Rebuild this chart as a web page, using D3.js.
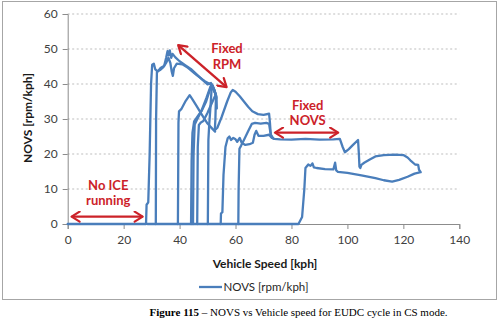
<!DOCTYPE html>
<html>
<head>
<meta charset="utf-8">
<script src="https://cdn.jsdelivr.net/npm/d3@7"></script>
<style>
  html, body { margin: 0; padding: 0; background: #fff; }
  svg { display: block; }
</style>
</head>
<body>
<svg id="chart" width="500" height="328"></svg>
<script>
// Axis ticks
const xTicks = [0, 20, 40, 60, 80, 100, 120, 140];
const yTicks = [0, 10, 20, 30, 40, 50, 60];

// NOVS trace, split into runs (each run starts when the engine fires up)
const speedRuns = [
  [0, 28, 28.2, 28.8, 29.3, 29.8, 30.2, 30.8, 31.3, 32.2, 33.2, 34.5, 35.2, 35.7, 36.1, 36.5, 37, 37.5, 38.5, 40,
   42, 44, 46, 48, 50, 51.2, 52, 52.8, 53, 52.8, 52.6, 53.5, 55, 57, 58.3, 59, 60, 61.5, 63, 64.5,
   66, 68, 70, 72, 72.3, 72.6, 73.2, 73.8, 76, 80, 85, 90, 95, 97.3, 98.3, 99.1, 100.5, 102, 103.8, 104.1,
   104.3, 104.6, 105, 106, 108, 110, 113, 117, 120, 121.5, 122.5, 124.2, 125.3, 125.6, 126.2, 124, 121.5, 118.5, 116, 113,
   110, 105, 100, 96.6, 96, 95.6, 95, 92, 89, 88, 87.5, 86.8, 86, 85, 84.6, 83.8, 82.5, 28.5],
  [39.4, 39.6, 39.8, 40.6, 42.2, 43.6, 44.6, 46, 48, 50, 51.5, 52.7],
  [44.1, 44.3, 44.6, 45.2, 46.5, 48, 49.5, 50.7, 51.5, 52.2, 52.8, 53.1],
  [44.8, 45, 45.4, 46.2, 47.8, 49.6, 51, 51.8, 52.5, 53],
  [46.3, 46.5, 46.9, 47.6, 48.5, 50, 51.5, 52.6],
  [50.1, 50.3, 50.6, 51, 51.4, 51.7, 52.3, 53],
  [31.5, 31.6, 31.9, 33, 34.2, 35.3, 36, 36.7, 37.2, 37.6, 38, 39, 41, 43, 46, 49, 51, 52.5, 53.2, 53.3],
  [54.7, 54.8, 55.3, 55.7, 56.4, 57.2, 57.8, 58.4, 59.2, 60, 60.6, 61.5, 62.2, 63.5, 65, 66.2, 66.8, 67.4, 68.2, 70,
   72, 73],
  [61, 61.1, 61.4, 62, 63, 64.5, 65.8, 67, 69, 71, 72, 72.4, 72.8, 73.5]
];
const novsRuns = [
  [0, 0, 5.5, 6.2, 20, 40, 45.5, 45.8, 44.2, 43.6, 44.6, 45.2, 47.5, 49.4, 48.2, 49.6, 47.5, 48.6, 47.6, 46.5,
   45.4, 44.3, 42.8, 41.3, 39.9, 40.3, 38.6, 37.3, 36.2, 30, 26.8, 27.5, 30.5, 35, 37.6, 38.3, 37.8, 36.5, 35, 33.5,
   32.2, 31.4, 31.2, 31.5, 29, 25.5, 24.8, 24.3, 24.2, 24.1, 24.3, 24.1, 24.2, 24.3, 22, 20.5, 21.4, 22.6, 24, 20,
   16.4, 16, 16.9, 17.5, 18.4, 19.3, 19.7, 19.8, 19.7, 19, 18.2, 17, 16.9, 15.5, 14.8, 14.4, 13.5, 12.6, 12.1, 12.5,
   13.1, 13.9, 14.6, 14.9, 15.3, 17.5, 15.6, 15.7, 16, 16.2, 17.3, 16.6, 17, 16, 10, 2, 0, 0],
  [0, 29, 32.2, 32.8, 35.2, 36.8, 35.6, 33.8, 31.2, 28.7, 27.4, 26.4],
  [0, 18, 26, 29.3, 30.8, 32.5, 35, 38, 39.9, 38.8, 37.2, 36],
  [0, 20, 28.4, 29.8, 32.3, 36, 39.2, 39.6, 38, 36.6],
  [0, 22, 28.3, 29, 29.4, 31.8, 34.5, 36.4],
  [0, 24, 28.5, 33, 38, 39.5, 38.4, 36.5],
  [0, 30, 43.5, 44, 44.8, 46.2, 47.5, 46, 43.5, 42.3, 44.5, 45.8, 45.6, 44.6, 42.6, 40.8, 39.9, 38.2, 36.4, 33],
  [0, 3, 3.4, 14, 22, 24.5, 25, 24, 24.6, 24.2, 23.5, 24.6, 23.2, 22.6, 22.8, 23.2, 25.5, 26.6, 25.2, 25.2,
   25.5, 24.6],
  [0, 10, 21.5, 22.4, 24, 26.5, 28.6, 28.9, 28.7, 28.9, 28.6, 26.5, 25, 24.4]
];

const seriesName = "NOVS [rpm/kph]";
const xTitle = "Vehicle Speed [kph]";
const yTitle = "NOVS [rpm/kph]";

const svg = d3.select("#chart");
const blue = "#4a7ebb";
const red = "#cc2229";
const uiFont = "Lato, 'Open Sans', sans-serif";

// Chart frame
svg.append("rect")
  .attr("x", 2.5).attr("y", 1.5).attr("width", 494).attr("height", 298)
  .attr("fill", "#fff").attr("stroke", "#a6a6a6").attr("stroke-width", 1);

const x = d3.scaleLinear().domain([0, 140]).range([67.7, 459.3]);
const y = d3.scaleLinear().domain([0, 60]).range([224, 14]);

// Dotted horizontal gridlines
svg.append("g")
  .selectAll("line")
  .data(yTicks.filter(v => v > 0))
  .join("line")
  .attr("x1", x(0)).attr("x2", x(140))
  .attr("y1", d => y(d)).attr("y2", d => y(d))
  .attr("stroke", "#bdbdbd").attr("stroke-width", 1)
  .attr("stroke-dasharray", "2,2.5");

// Axes
const xAxis = svg.append("g")
  .attr("transform", `translate(0,${y(0)})`)
  .call(d3.axisBottom(x).tickValues(xTicks).tickSize(5).tickPadding(6).tickFormat(d3.format("d")));
const yAxis = svg.append("g")
  .attr("transform", `translate(${x(0)},0)`)
  .call(d3.axisLeft(y).tickValues(yTicks).tickSize(5).tickPadding(5).tickFormat(d3.format("d")));

[xAxis, yAxis].forEach(g => {
  g.select(".domain").attr("stroke", "#8c8c8c");
  g.selectAll(".tick line").attr("stroke", "#8c8c8c");
  g.selectAll(".tick text")
    .attr("fill", "#404040")
    .style("font-family", uiFont)
    .style("font-size", "12px");
});

// Trace
const runs = speedRuns.map((xs, i) => xs.map((s, j) => ({ s, n: novsRuns[i][j] })));
const line = d3.line().x(d => x(d.s)).y(d => y(d.n));
svg.append("g")
  .selectAll("path")
  .data(runs)
  .join("path")
  .attr("d", line)
  .attr("fill", "none")
  .attr("stroke", blue)
  .attr("stroke-width", 2.3)
  .attr("stroke-linejoin", "round")
  .attr("stroke-linecap", "round");

// Axis titles
svg.append("text")
  .attr("x", 265).attr("y", 267.5)
  .attr("text-anchor", "middle")
  .style("font-family", uiFont).style("font-weight", "bold").style("font-size", "12px")
  .attr("fill", "#1a1a1a")
  .text(xTitle);
svg.append("text")
  .attr("transform", "translate(31.5,118) rotate(-90)")
  .attr("text-anchor", "middle")
  .style("font-family", uiFont).style("font-weight", "bold").style("font-size", "12px")
  .attr("fill", "#1a1a1a")
  .text(yTitle);

// Legend
svg.append("line")
  .attr("x1", 199).attr("x2", 222).attr("y1", 287).attr("y2", 287)
  .attr("stroke", blue).attr("stroke-width", 2.3);
svg.append("text")
  .attr("x", 223.5).attr("y", 291)
  .style("font-family", uiFont).style("font-size", "11.5px")
  .attr("fill", "#262626")
  .text(seriesName);

// Annotations
const defs = svg.append("defs");
["start", "end"].forEach(k => {
  defs.append("marker")
    .attr("id", "head-" + k)
    .attr("viewBox", "-10 -6 12 12")
    .attr("markerWidth", 12).attr("markerHeight", 12)
    .attr("markerUnits", "userSpaceOnUse")
    .attr("refX", 0).attr("refY", 0)
    .attr("orient", k === "end" ? "auto" : "auto-start-reverse")
    .append("path")
    .attr("d", "M-8,-5 L0,0 L-8,5")
    .attr("fill", "none").attr("stroke", red).attr("stroke-width", 2.2)
    .attr("stroke-linecap", "round").attr("stroke-linejoin", "round");
});

const arrows = [
  [[39.5, 51.1], [56.8, 39.1]],
  [[74.1, 26.1], [96.7, 26.1]],
  [[1.4, 2.1], [26.8, 2.1]]
];
svg.append("g")
  .selectAll("line")
  .data(arrows)
  .join("line")
  .attr("x1", d => x(d[0][0])).attr("y1", d => y(d[0][1]))
  .attr("x2", d => x(d[1][0])).attr("y2", d => y(d[1][1]))
  .attr("stroke", red).attr("stroke-width", 2.4)
  .attr("marker-start", "url(#head-start)")
  .attr("marker-end", "url(#head-end)");

const notes = [
  { text: "Fixed", at: [56.95, 50.2] },
  { text: "RPM", at: [56.95, 45.7] },
  { text: "Fixed", at: [85.8, 34.0] },
  { text: "NOVS", at: [85.8, 29.5] },
  { text: "No ICE", at: [14.5, 10.9] },
  { text: "running", at: [14.5, 6.6] }
];
svg.append("g")
  .selectAll("text")
  .data(notes)
  .join("text")
  .attr("x", d => x(d.at[0]))
  .attr("y", d => y(d.at[1]) + 4.5)
  .attr("text-anchor", "middle")
  .style("font-family", uiFont).style("font-weight", "bold").style("font-size", "13px")
  .attr("fill", red)
  .text(d => d.text);

// Caption
const cap = svg.append("text")
  .attr("x", 298.5).attr("y", 316)
  .attr("text-anchor", "middle")
  .style("font-family", "'Liberation Serif', 'Times New Roman', serif")
  .style("font-size", "11px")
  .attr("fill", "#000");
cap.append("tspan").style("font-weight", "bold").text("Figure 115");
cap.append("tspan").text(" \u2013 NOVS vs Vehicle speed for EUDC cycle in CS mode.");
</script>
</body>
</html>
